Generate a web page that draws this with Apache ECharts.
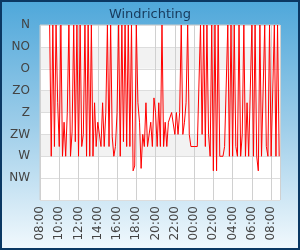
<!DOCTYPE html>
<html>
<head>
<meta charset="utf-8">
<script src="https://cdn.jsdelivr.net/npm/echarts@6/dist/echarts.min.js"></script>
<style>
  html, body { margin: 0; padding: 0; }
  #chart { width: 300px; height: 250px; }
</style>
</head>
<body>
<div id="chart"></div>
<script>
  // wind direction in degrees, 10-minute readings from 09:00 to 08:50 next day
  var windDeg = [
    0, 270, 0, 250, 0, 160,
    250, 0, 270, 200, 270, 180,
    0, 270, 220, 0, 240, 0,
    270, 0, 250, 225, 0, 270,
    0, 270, 0, 270, 160, 250,
    200, 200, 250, 160, 250, 180,
    0, 250, 0, 230, 270, 250,
    180, 0, 270, 0, 240, 0,
    250, 0, 250, 0, 300, 290,
    0, 160, 200, 295, 225, 250,
    160, 250, 250, 200, 250, 150,
    180, 250, 160, 250, 0, 250,
    200, 250, 200, 200, 180, 180,
    225, 180, 225, 180, 0, 225,
    200, 160, 0, 225, 250, 250,
    250, 250, 250, 250, 0, 225,
    0, 250, 0, 225, 270, 0,
    300, 0, 300, 0, 270, 270,
    270, 250, 250, 0, 270, 0,
    270, 0, 250, 270, 0, 270,
    225, 0, 270, 160, 270, 270,
    0, 270, 0, 270, 300, 0,
    270, 270, 0, 250, 270, 0,
    270, 270, 0, 270, 0, 270
  ]
  var dirLabels = ['N', 'NO', 'O', 'ZO', 'Z', 'ZW', 'W', 'NW', '']
  var timeLabels = ['08:00', '10:00', '12:00', '14:00', '16:00', '18:00', '20:00',
    '22:00', '00:00', '02:00', '04:00', '06:00', '08:00']

  // x = hours after 08:00, first reading at 09:00
  var points = windDeg.map(function(v, i) {
    return [1 + i / 6, v]
  })

  var chart = echarts.init(document.getElementById('chart'))
  chart.setOption({
    animation: false,
    backgroundColor: {
      type: 'linear', x: 0, y: 0, x2: 0, y2: 1,
      colorStops: [
        { offset: 0, color: '#4ea7da' },
        { offset: 0.5, color: '#9dcde9' },
        { offset: 1, color: '#f2f9fd' }
      ]
    },
    graphic: [{
      type: 'rect',
      silent: true,
      shape: { x: 1, y: 1, width: 298, height: 248 },
      style: { fill: 'none', stroke: '#0b3863', lineWidth: 2 }
    }],
    title: {
      text: 'Windrichting',
      left: 'center',
      top: 3,
      textStyle: {
        fontFamily: 'DejaVu Sans',
        fontSize: 13,
        fontWeight: 'normal',
        color: '#173a5c'
      }
    },
    grid: {
      left: 40,
      right: 20,
      top: 25,
      bottom: 50,
      show: true,
      backgroundColor: '#fff',
      borderColor: '#cccccc',
      borderWidth: 1
    },
    xAxis: {
      type: 'value',
      min: 0,
      max: 24.92,
      interval: 2,
      axisLine: { show: false },
      axisTick: { show: false },
      splitLine: { show: true, lineStyle: { color: '#d0d0d0', width: 1 } },
      axisLabel: {
        rotate: 90,
        margin: 6,
        fontFamily: 'DejaVu Sans',
        fontSize: 12,
        color: '#444',
        showMaxLabel: false,
        formatter: function(v) {
          return timeLabels[Math.round(v / 2)] || ''
        }
      }
    },
    yAxis: {
      type: 'value',
      inverse: true,
      min: 0,
      max: 360,
      interval: 45,
      axisLine: { show: false },
      axisTick: { show: false },
      splitLine: { show: true, lineStyle: { color: '#dddddd', width: 1 } },
      splitArea: {
        show: true,
        areaStyle: {
          color: ['#ffffff', '#f2f2f2', '#ffffff', '#f2f2f2', '#ffffff', '#f2f2f2', '#ffffff', '#ffffff']
        }
      },
      axisLabel: {
        margin: 10,
        fontFamily: 'DejaVu Sans',
        fontSize: 12,
        color: '#444',
        formatter: function(v) {
          return dirLabels[Math.round(v / 45)]
        }
      }
    },
    series: [{
      type: 'line',
      data: points,
      showSymbol: false,
      lineStyle: { color: '#ff0000', width: 1 },
      itemStyle: { color: '#ff0000' }
    }]
  })
</script>
</body>
</html>
